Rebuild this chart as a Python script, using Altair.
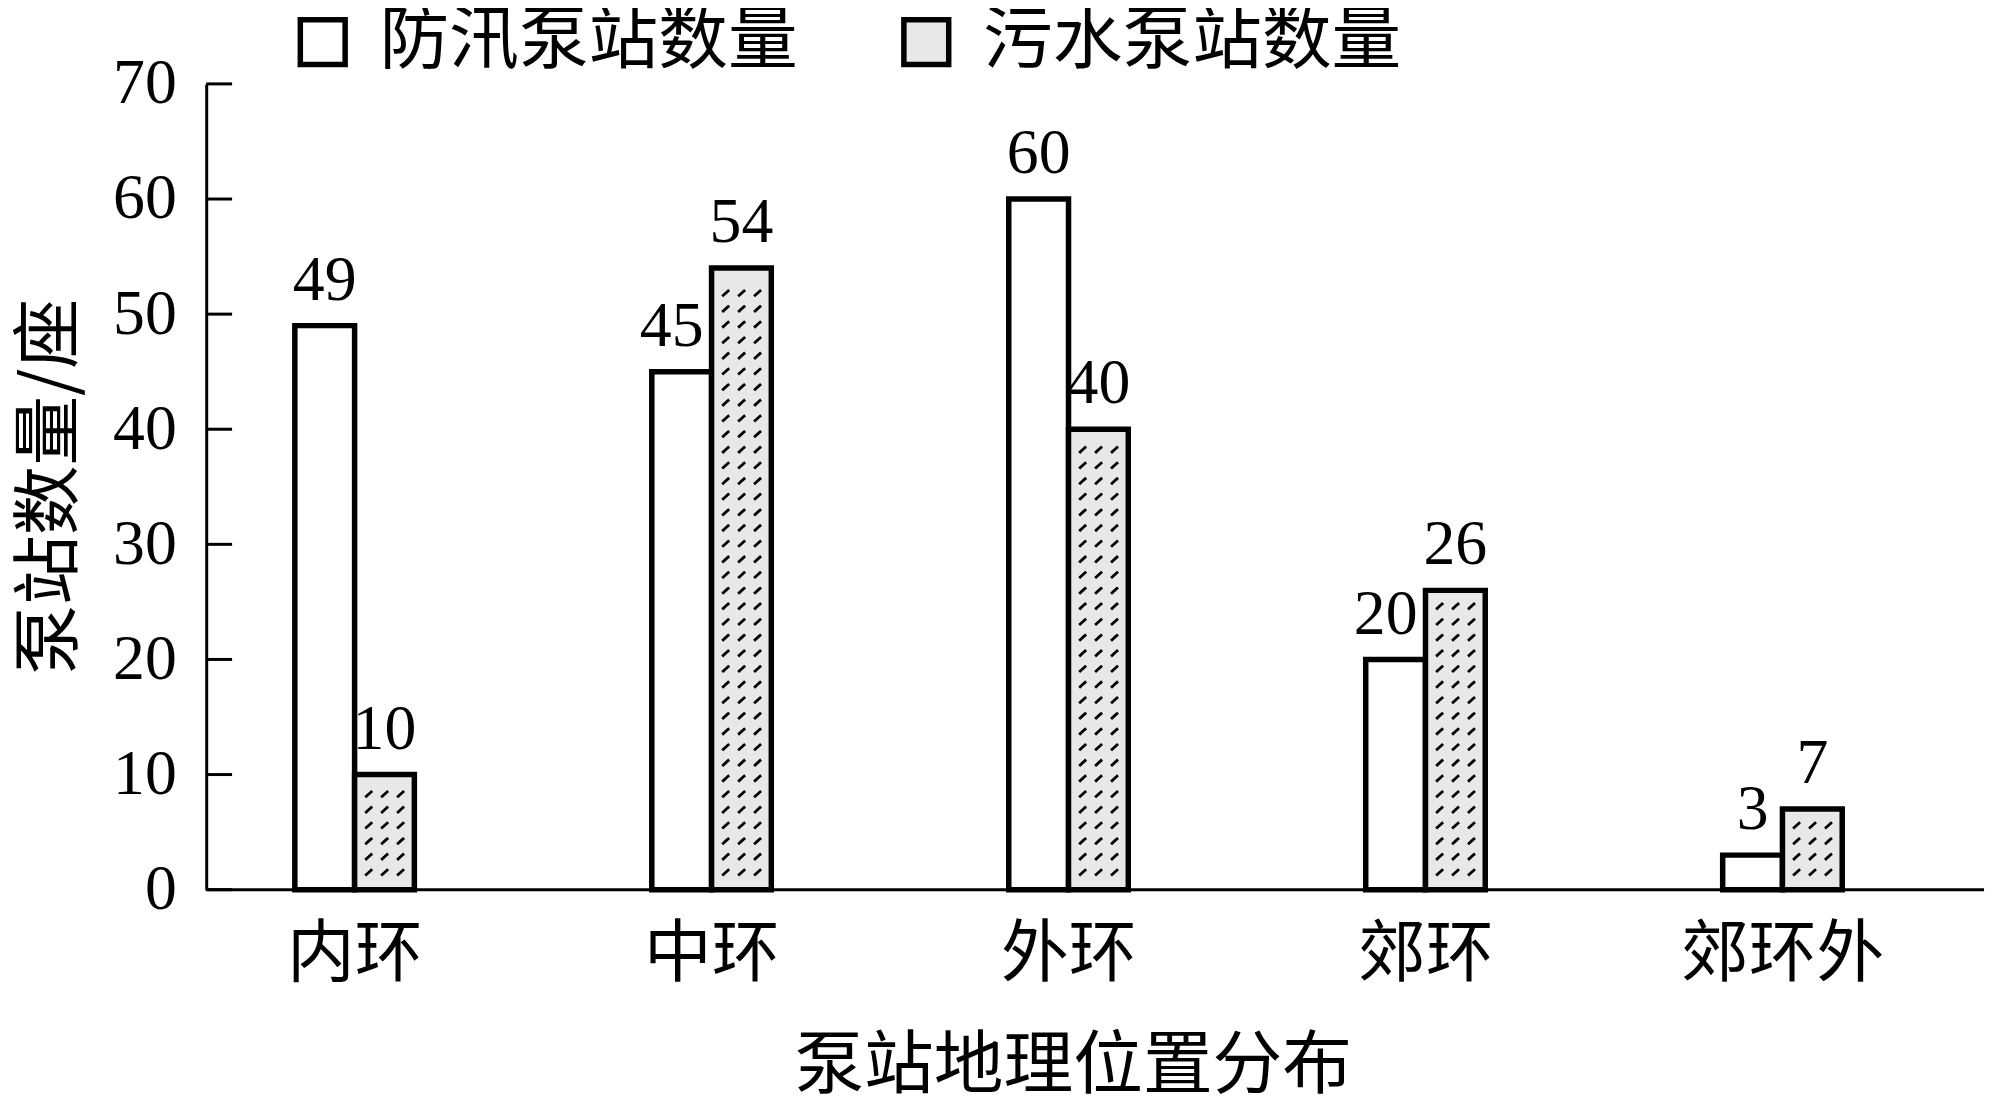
import altair as alt
import pandas as pd

# chart data
locations = ["内环", "中环", "外环", "郊环", "郊环外"]
series = ["防汛泵站数量", "污水泵站数量"]
flood_counts = [49, 45, 60, 20, 3]
sewage_counts = [10, 54, 40, 26, 7]
y_ticks = [0, 10, 20, 30, 40, 50, 60, 70]

df = pd.DataFrame({
    "location": locations * 2,
    "series": [series[0]] * len(locations) + [series[1]] * len(locations),
    "count": flood_counts + sewage_counts,
    "neighbour": sewage_counts + flood_counts,
})
ticks_df = pd.DataFrame({"tick": y_ticks})

NUM_FONT = "Liberation Serif, Noto Sans CJK SC"
CJK_FONT = "Noto Sans CJK SC"
W, H = 1785, 809

x_scale = alt.Scale(domain=locations, range=[-30, 1762], paddingInner=0, paddingOuter=0)
x_enc = alt.X(
    "location:N",
    sort=locations,
    scale=x_scale,
    axis=alt.Axis(
        title="泵站地理位置分布", labelAngle=0, ticks=False, tickSize=0, domain=False,
        labelFont=CJK_FONT, labelFontSize=68, labelColor="black", labelPadding=32,
        labelLimit=500,
        titleFont=CJK_FONT, titleFontSize=70, titleFontWeight="normal", titleColor="black",
        titleX=870, titleY=178, titleBaseline="middle",
    ),
)
xoff_enc = alt.XOffset(
    "series:N", sort=series,
    scale=alt.Scale(domain=series, range=[119, 239], paddingInner=0, paddingOuter=0),
)
y_scale = alt.Scale(domain=[0, 70], nice=False)

bars = alt.Chart(df).mark_bar(stroke="black", strokeWidth=5.5).encode(
    x=x_enc,
    xOffset=xoff_enc,
    y=alt.Y(
        "count:Q", scale=y_scale,
        axis=alt.Axis(
            title="泵站数量/座", values=y_ticks, grid=False, ticks=False, tickSize=0,
            domainColor="black", domainWidth=3,
            labelFont=NUM_FONT, labelFontSize=64, labelColor="black", labelPadding=30,
            titleFont=CJK_FONT, titleFontSize=70, titleFontWeight="normal", titleColor="black",
            titleX=-156, titleY=404, titleAngle=270, titleBaseline="middle", titleAlign="center",
        ),
    ),
    fill=alt.Fill(
        "series:N", sort=series,
        scale=alt.Scale(domain=series, range=["white", "#e8e8e8"]),
        legend=alt.Legend(
            title=None, orient="none", legendX=82, legendY=-77, direction="horizontal",
            symbolType="square", symbolSize=2025, symbolStrokeColor="black",
            symbolStrokeWidth=5.5, labelFont=CJK_FONT, labelFontSize=70,
            labelColor="black", labelOffset=22, labelLimit=800, columnPadding=94,
        ),
    ),
)

# short dashes forming the texture of the sewage bars
texture = []
for dx in [-16, 0, 16]:
    texture.append(
        alt.Chart(df).transform_filter(
            alt.datum.series == series[1]
        ).transform_calculate(
            rows="sequence(1.5, datum.count - 1.2, 1.36)"
        ).transform_flatten(
            ["rows"]
        ).mark_point(
            shape="M-1,0.9L0.2,-0.2L1,-0.9", size=49, filled=False,
            stroke="black", strokeWidth=2.8, opacity=1, xOffset=30 + dx,
        ).encode(
            x=alt.X("location:N", sort=locations, scale=x_scale),
            y=alt.Y("rows:Q", scale=y_scale),
        )
    )

label_enc = dict(
    x=alt.X("location:N", sort=locations),
    xOffset=alt.XOffset("series:N", sort=series),
    y=alt.Y("count:Q"),
    text=alt.Text("count:Q"),
)
label_style = dict(font=NUM_FONT, fontSize=64, color="black", baseline="alphabetic", dy=-26)

# two-digit flood labels beside a taller sewage bar sit slightly to the left
shifted = (alt.datum.series == series[0]) & (alt.datum.count < alt.datum.neighbour) & (alt.datum.count >= 10)

labels_plain = alt.Chart(df).transform_filter(~shifted).mark_text(**label_style).encode(**label_enc)
labels_shifted = alt.Chart(df).transform_filter(shifted).mark_text(dx=-10, **label_style).encode(**label_enc)

y_tick_marks = alt.Chart(ticks_df).mark_rule(color="black", strokeWidth=3).encode(
    y=alt.Y("tick:Q"),
    x=alt.value(0),
    x2=alt.value(26),
)

baseline = alt.Chart(ticks_df).transform_filter(
    alt.datum.tick == 0
).mark_rule(color="black", strokeWidth=3).encode(
    y=alt.Y("tick:Q"),
    x=alt.value(0),
    x2=alt.value(W),
)

chart = alt.layer(bars, *texture, labels_plain, labels_shifted, y_tick_marks, baseline).properties(
    width=W,
    height=H,
    autosize=alt.AutoSizeParams(type="none"),
    padding={"left": 199, "top": 74, "right": 8, "bottom": 214},
).configure_view(
    stroke=None
)

chart.save("out.html", embed_options={"renderer": "svg", "actions": False})
